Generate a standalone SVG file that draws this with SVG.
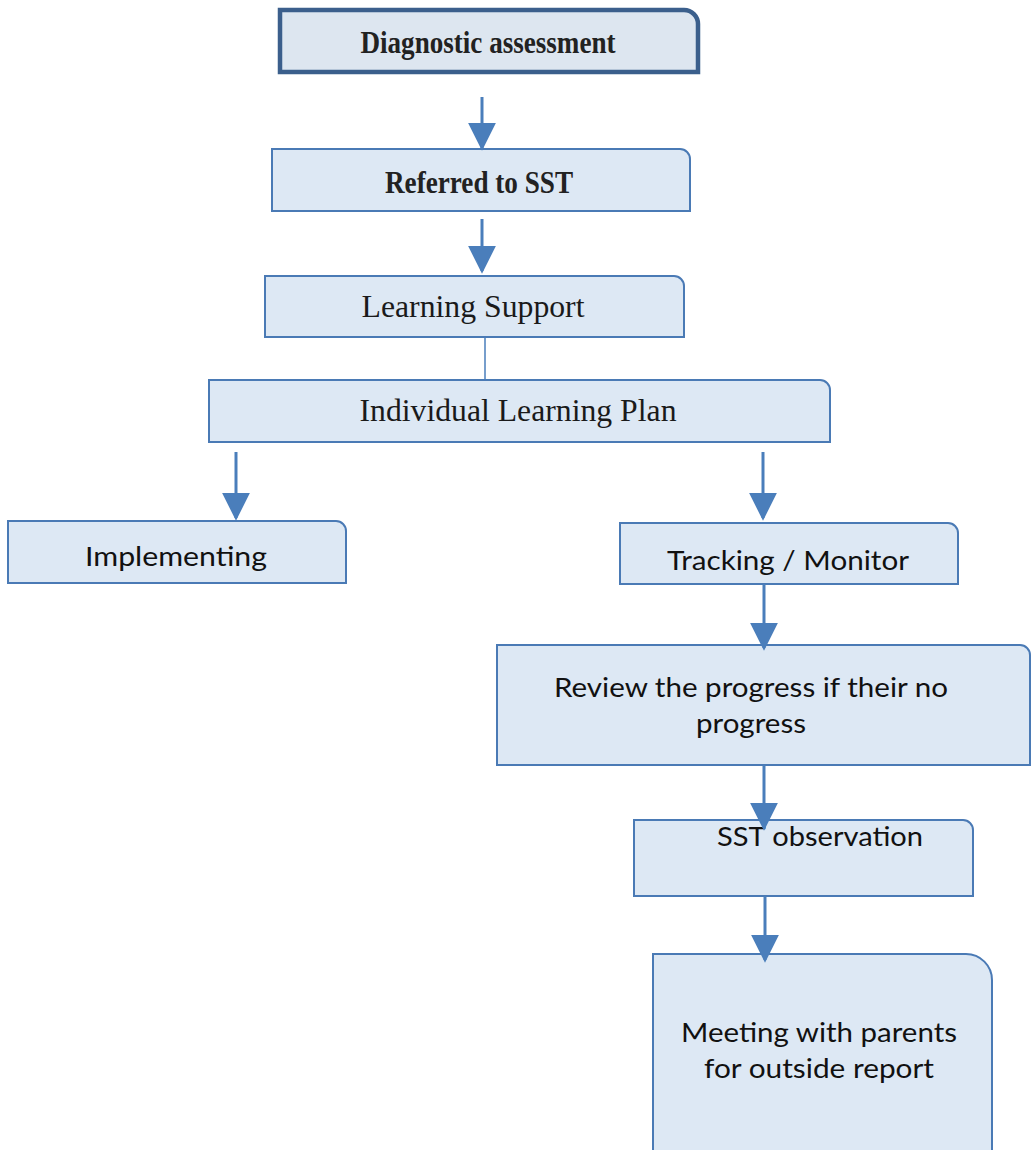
<svg xmlns="http://www.w3.org/2000/svg" width="1031" height="1150" viewBox="0 0 1031 1150">
<style>
.box{fill:#dde8f4;stroke:#4a7ab5;stroke-width:2}
.box1{fill:#dde6f0;stroke:#3b5f8c;stroke-width:4.5}
.ser{font-family:"Liberation Serif","Times New Roman",serif;fill:#1a1a1a;text-anchor:middle}
.serb{font-family:"Liberation Serif","Times New Roman",serif;font-weight:bold;fill:#222;text-anchor:middle}
.sans{font-family:Lato,"Noto Sans","Liberation Sans",sans-serif;fill:#111;text-anchor:middle;font-size:27.5px}
.conn{fill:none;stroke:#4a7ebb;stroke-width:3}
.thin{fill:none;stroke:#4a7ebb;stroke-width:1.5}
</style>
<defs>
<marker id="ah" viewBox="0 0 10 10" refX="9" refY="5" markerWidth="28" markerHeight="28" markerUnits="userSpaceOnUse" orient="auto" preserveAspectRatio="none">
<path d="M0,0 L10,5 L0,10 Z" fill="#4a7ebb"/>
</marker>
</defs>
<g id="n1">
<path class="box1" d="M280,10 H684 A14,14 0 0 1 698,24 V72 H280 Z"/>
<text class="serb" x="488" y="53" font-size="32" textLength="255" lengthAdjust="spacingAndGlyphs">Diagnostic assessment</text>
</g>
<g id="n2">
<path class="box" d="M272,149 H680 A10,10 0 0 1 690,159 V211 H272 Z"/>
<text class="serb" x="479" y="193" font-size="32" textLength="188" lengthAdjust="spacingAndGlyphs">Referred to SST</text>
</g>
<g id="n3">
<path class="box" d="M265,276 H674 A10,10 0 0 1 684,286 V337 H265 Z"/>
<text class="ser" x="473" y="317" font-size="32" textLength="223" lengthAdjust="spacingAndGlyphs">Learning Support</text>
</g>
<g id="n4">
<path class="box" d="M209,380 H820 A10,10 0 0 1 830,390 V442 H209 Z"/>
<text class="ser" x="518" y="421" font-size="31" textLength="317" lengthAdjust="spacingAndGlyphs">Individual Learning Plan</text>
</g>
<g id="n5">
<path class="box" d="M8,521 H336 A10,10 0 0 1 346,531 V583 H8 Z"/>
<text class="sans" x="176" y="566" textLength="182" lengthAdjust="spacingAndGlyphs">Implementing</text>
</g>
<g id="n6">
<path class="box" d="M620,523 H948 A10,10 0 0 1 958,533 V584 H620 Z"/>
<text class="sans" x="788" y="570" textLength="242" lengthAdjust="spacingAndGlyphs">Tracking / Monitor</text>
</g>
<g id="n7">
<path class="box" d="M497,645 H1020 A10,10 0 0 1 1030,655 V765 H497 Z"/>
<text class="sans" x="751" y="697" textLength="394" lengthAdjust="spacingAndGlyphs">Review the progress if their no</text>
<text class="sans" x="751" y="733" textLength="110" lengthAdjust="spacingAndGlyphs">progress</text>
</g>
<g id="n8">
<path class="box" d="M634,820 H963 A10,10 0 0 1 973,830 V896 H634 Z"/>
<text class="sans" x="820" y="846" textLength="206" lengthAdjust="spacingAndGlyphs">SST observation</text>
</g>
<g id="n9">
<path class="box" d="M653,954 H966 A26,26 0 0 1 992,980 V1160 H653 Z"/>
<text class="sans" x="819" y="1042" textLength="276" lengthAdjust="spacingAndGlyphs">Meeting with parents</text>
<text class="sans" x="819" y="1078" textLength="230" lengthAdjust="spacingAndGlyphs">for outside report</text>
</g>
<g id="connectors">
<path class="conn" d="M482,97 V148" marker-end="url(#ah)"/>
<path class="conn" d="M482,219 V271" marker-end="url(#ah)"/>
<path class="thin" d="M485,337 V380"/>
<path class="conn" d="M236,452 V518" marker-end="url(#ah)"/>
<path class="conn" d="M763,452 V518" marker-end="url(#ah)"/>
<path class="conn" d="M764,584 V648" marker-end="url(#ah)"/>
<path class="conn" d="M764,765 V828" marker-end="url(#ah)"/>
<path class="conn" d="M765,896 V960" marker-end="url(#ah)"/>
</g>
</svg>
